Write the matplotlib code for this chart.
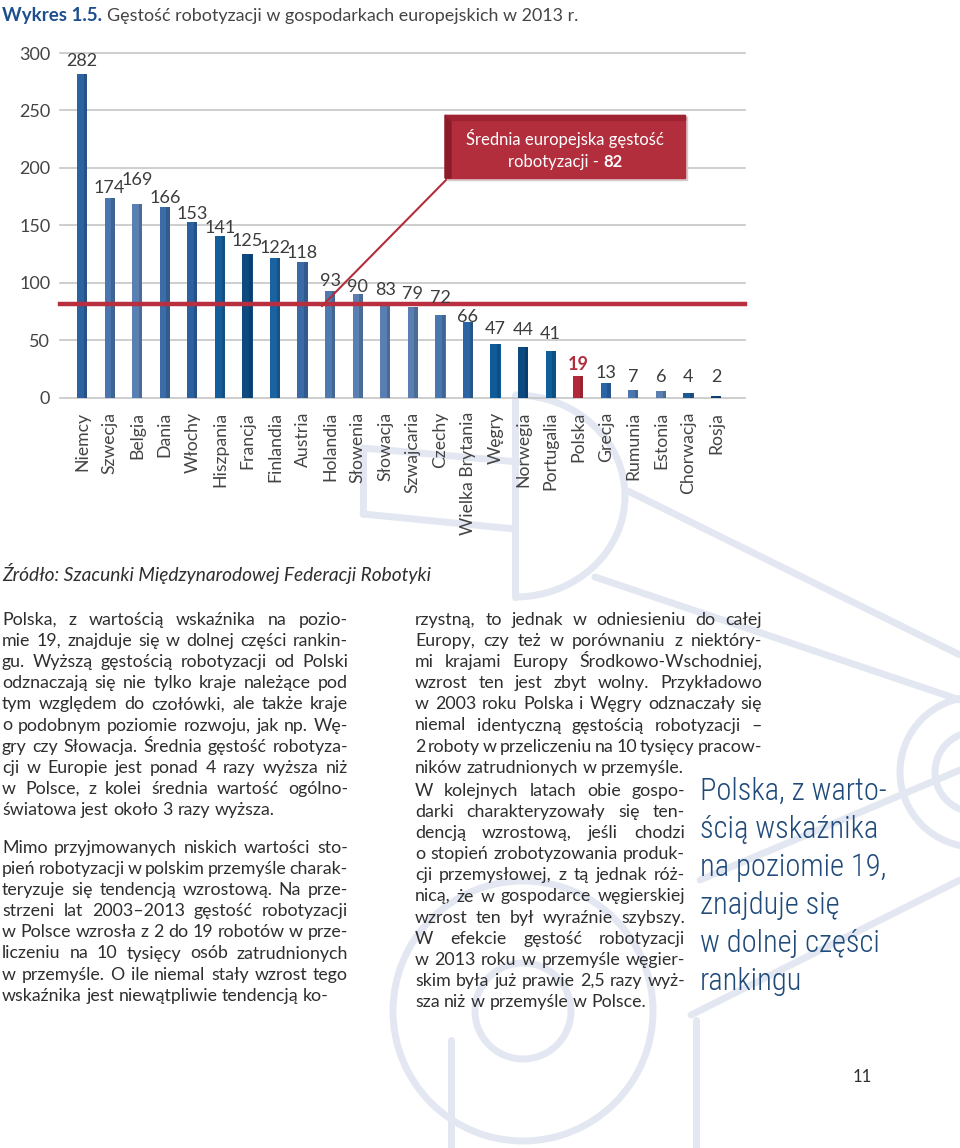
import matplotlib
matplotlib.use("Agg")
import matplotlib.pyplot as plt
from matplotlib.patches import Rectangle, Polygon, Circle, Arc
import numpy as np

# ---------------- data ----------------
countries = ["Niemcy", "Szwecja", "Belgia", "Dania", "Włochy", "Hiszpania", "Francja",
             "Finlandia", "Austria", "Holandia", "Słowenia", "Słowacja", "Szwajcaria",
             "Czechy", "Wielka Brytania", "Węgry", "Norwegia", "Portugalia", "Polska",
             "Grecja", "Rumunia", "Estonia", "Chorwacja", "Rosja"]
density = [282, 174, 169, 166, 153, 141, 125, 122, 118, 93, 90, 83, 79, 72, 66,
           47, 44, 41, 19, 13, 7, 6, 4, 2]
eu_average = 82
highlight = "Polska"
y_ticks = [0, 50, 100, 150, 200, 250, 300]

title_bold = "Wykres 1.5."
title_rest = "Gęstość robotyzacji w gospodarkach europejskich w 2013 r."
callout_line1 = "Średnia europejska gęstość"
callout_line2 = "robotyzacji - "
source = "Źródło: Szacunki Międzynarodowej Federacji Robotyki"

col1_par1 = ["Polska, z wartością wskaźnika na pozio-",
             "mie 19, znajduje się w dolnej części rankin-",
             "gu. Wyższą gęstością robotyzacji od Polski",
             "odznaczają się nie tylko kraje należące pod",
             "tym względem do czołówki, ale także kraje",
             "o podobnym poziomie rozwoju, jak np. Wę-",
             "gry czy Słowacja. Średnia gęstość robotyza-",
             "cji w Europie jest ponad 4 razy wyższa niż",
             "w Polsce, z kolei średnia wartość ogólno-",
             "światowa jest około 3 razy wyższa."]
col1_par2 = ["Mimo przyjmowanych niskich wartości sto-",
             "pień robotyzacji w polskim przemyśle charak-",
             "teryzuje się tendencją wzrostową. Na prze-",
             "strzeni lat 2003–2013 gęstość robotyzacji",
             "w Polsce wzrosła z 2 do 19 robotów w prze-",
             "liczeniu na 10 tysięcy osób zatrudnionych",
             "w przemyśle. O ile niemal stały wzrost tego",
             "wskaźnika jest niewątpliwie tendencją ko-"]
col2_par1 = ["rzystną, to jednak w odniesieniu do całej",
             "Europy, czy też w porównaniu z niektóry-",
             "mi krajami Europy Środkowo-Wschodniej,",
             "wzrost ten jest zbyt wolny. Przykładowo",
             "w 2003 roku Polska i Węgry odznaczały się",
             "niemal identyczną gęstością robotyzacji –",
             "2 roboty w przeliczeniu na 10 tysięcy pracow-",
             "ników zatrudnionych w przemyśle."]
col2_par2 = ["W kolejnych latach obie gospo-",
             "darki charakteryzowały się ten-",
             "dencją wzrostową, jeśli chodzi",
             "o stopień zrobotyzowania produk-",
             "cji przemysłowej, z tą jednak róż-",
             "nicą, że w gospodarce węgierskiej",
             "wzrost ten był wyraźnie szybszy.",
             "W efekcie gęstość robotyzacji",
             "w 2013 roku w przemyśle węgier-",
             "skim była już prawie 2,5 razy wyż-",
             "sza niż w przemyśle w Polsce."]
pull_quote = ["Polska, z warto-", "ścią wskaźnika", "na poziomie 19,",
              "znajduje się", "w dolnej części", "rankingu"]
page_number = "11"

# ---------------- styles ----------------
bar_colors = ["#2c62a0", "#4a76ad", "#5a7fb3", "#3b6ca7", "#2a619e", "#145e9b",
              "#0d4a80", "#1a62a0", "#3a6ba7", "#4e7ab0", "#5a80b3", "#587eb2",
              "#5a80b3", "#4a77b0", "#2d64a3", "#0f5b99", "#0d4a80", "#105e9c",
              "#b3283a", "#2b65a5", "#4a77b0", "#5a80b2", "#1d5a96", "#0c4272"]
label_dy = [13, 10, 24, 9, 8, 8, 13, 10, 9, 10, 7, 13, 13, 17, 5, 15, 17, 17,
            12, 10, 13, 14, 16, 19]   # pixels above bar top
RED = "#b22e3d"
TXT = "#2e2e2e"
FONT = ["Lato", "DejaVu Sans"]
plt.rcParams["font.family"] = FONT

W, H = 960, 1148
fig = plt.figure(figsize=(W / 100, H / 100), dpi=100)
fig.patch.set_facecolor("white")

# background (page) axes in pixel coordinates
bg = fig.add_axes([0, 0, 1, 1], zorder=0)
bg.set_xlim(0, W)
bg.set_ylim(H, 0)
bg.axis("off")

# faint watermark (robot arm outline)
WMC = "#e2e7f1"
wm = dict(color=WMC, lw=5, solid_capstyle="round", zorder=0)
bg.plot([363, 519], [448, 462], **wm)
bg.plot([363, 363], [448, 514], **wm)
bg.plot([363, 515], [514, 529], **wm)
bg.plot([515, 515], [395, 597], **wm)
bg.add_patch(Arc((515, 496), 220, 202, theta1=-90, theta2=90, color=WMC, lw=5, zorder=0))
bg.plot([595, 960], [577, 700], **wm)
bg.plot([628, 960], [491, 655], **wm)
bg.add_patch(Circle((975, 772), 75, fill=False, ec=WMC, lw=5, zorder=0))
bg.add_patch(Circle((975, 772), 40, fill=False, ec=WMC, lw=5, zorder=0))
bg.add_patch(Circle((523, 1011), 130, fill=False, ec=WMC, lw=5, zorder=0))
bg.add_patch(Circle((523, 1011), 48, fill=False, ec=WMC, lw=5, zorder=0))
bg.plot([451, 451], [1040, 1148], **wm)
bg.plot([696, 696], [1020, 1148], **wm)
bg.plot([691, 960], [1015, 880], **wm)
bg.plot([700, 960], [880, 770], **wm)

# ---------------- chart ----------------
ax = fig.add_axes([60 / W, 1 - 398 / H, (745 - 60) / W, (398 - 53) / H], zorder=2)
ax.set_facecolor("none")
x = np.arange(len(countries))
ax.set_xlim(-0.80, len(countries) - 1 + 1.05)
ax.set_ylim(0, 300)
for yt in y_ticks:
    ax.axhline(yt, color="#c6c6c6", lw=1.2, zorder=1, clip_on=False)
bars = ax.bar(x, density, width=0.37, color=bar_colors, zorder=3)
# slight darker right side for a 3D feel
shade = ax.bar(x + 0.12, density, width=0.12, color="black", alpha=0.15, zorder=4)
ax.axhline(eu_average, color="#b8303f", lw=3.2, zorder=5, clip_on=False)

for spine in ax.spines.values():
    spine.set_visible(False)
ax.set_yticks(y_ticks)
ax.set_yticklabels([str(v) for v in y_ticks], fontsize=13, color="#444444")
ax.tick_params(axis="y", length=0, pad=7)
ax.set_xticks(x)
ax.set_xticklabels(countries, rotation=90, fontsize=12.7, color="#444444")
ax.tick_params(axis="x", length=0, pad=10)

for i, (c, v) in enumerate(zip(countries, density)):
    is_h = c == highlight
    ax.annotate(str(v), (i, v), xytext=(0, label_dy[i] * 0.72), textcoords="offset points",
                ha="center", va="center", fontsize=13,
                color=RED if is_h else "#3c3c3c",
                fontweight="bold" if is_h else "normal", zorder=6)

# ---------------- foreground (callout) ----------------
fg = fig.add_axes([0, 0, 1, 1], zorder=5)
fg.set_xlim(0, W)
fg.set_ylim(H, 0)
fg.axis("off")
fg.patch.set_alpha(0)
fg.plot([448, 322], [178, 306], color=RED, lw=1.5, zorder=1)
fg.add_patch(Rectangle((447, 117), 240, 63, color="#d9c9cc", zorder=1))  # shadow
fg.add_patch(Rectangle((445, 115), 240, 63, color=RED, zorder=2))
fg.add_patch(Polygon([(445, 115), (451, 120), (451, 178), (445, 178)], closed=True,
                     color="#8c1c2a", zorder=3))
fg.add_patch(Polygon([(445, 115), (685, 115), (685, 120), (451, 120)], closed=True,
                     color="#9e2232", zorder=3))

fig.canvas.draw()
renderer = fig.canvas.get_renderer()

def width_of(t):
    return t.get_window_extent(renderer).width

fg.text(565, 145, callout_line1, ha="center", va="baseline", fontsize=12, color="white", zorder=4)
t1 = fg.text(0, 167, callout_line2, ha="left", va="baseline", fontsize=12, color="white", zorder=4)
t2 = fg.text(0, 167, str(eu_average), ha="left", va="baseline", fontsize=12,
             fontweight="bold", color="white", zorder=4)
w1, w2 = width_of(t1), width_of(t2)
x0 = 565 - (w1 + w2) / 2
t1.set_x(x0)
t2.set_x(x0 + w1)

# ---------------- page text ----------------
tb = bg.text(2, 21, title_bold, ha="left", va="baseline", fontsize=13.5,
             fontweight="bold", color="#1d4f8f")
bg.text(2 + width_of(tb) + 5, 21, title_rest, ha="left", va="baseline",
        fontsize=12.9, color="#444444")

bg.text(2, 581, source, ha="left", va="baseline", fontsize=13.8, style="italic", color=TXT)

BODY = 12.8

def justify(lines, x0, x1, y0, dy, last_left=True):
    sp = bg.text(0, 0, "a a", fontsize=BODY)
    ns = bg.text(0, 0, "aa", fontsize=BODY)
    space = width_of(sp) - width_of(ns)
    sp.remove(); ns.remove()
    for k, line in enumerate(lines):
        y = y0 + k * dy
        words = line.split(" ")
        texts = [bg.text(0, y, w, ha="left", va="baseline", fontsize=BODY, color=TXT)
                 for w in words]
        ws = [width_of(t) for t in texts]
        if (k == len(lines) - 1 and last_left) or len(words) == 1:
            gap = space
        else:
            gap = (x1 - x0 - sum(ws)) / (len(words) - 1)
            gap = max(gap, space * 0.35)
        xx = x0
        for t, w in zip(texts, ws):
            t.set_x(xx)
            xx += w + gap

LH = 21.1
justify(col1_par1, 2, 348, 625, LH)
justify(col1_par2, 2, 348, 853, LH)
justify(col2_par1, 415, 762, 625, LH)
justify(col2_par2, 415, 685, 796, LH)

PQ = ["Roboto Condensed", "Liberation Sans Narrow", "Lato", "DejaVu Sans"]
for k, line in enumerate(pull_quote):
    bg.text(700, 800 + k * 38, line, ha="left", va="baseline", fontsize=22,
            fontweight="light", color="#1f4a7a", family=PQ)

bg.text(862, 1082, page_number, ha="center", va="baseline", fontsize=12, color=TXT)

fig.savefig("out.png", dpi=100, facecolor="white")
